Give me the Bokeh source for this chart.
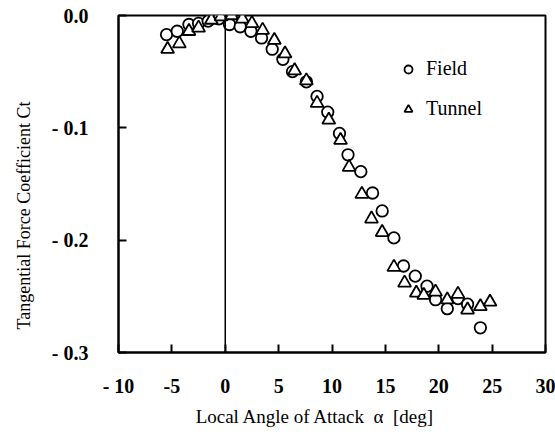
from bokeh.plotting import figure
from bokeh.models import Range1d, FixedTicker, Span, Legend, LegendItem
from bokeh.embed import file_html
from bokeh.resources import INLINE

field_alpha = [-5.5, -4.5, -3.4, -2.5, -1.6, -0.6, 0.4, 1.4, 2.4, 3.4, 4.4, 5.4, 6.3, 7.6, 8.6, 9.6,
               10.7, 11.5, 12.7, 13.8, 14.7, 15.8, 16.7, 17.8, 18.9, 19.7, 20.8, 21.8, 22.7, 23.9]
field_ct = [-0.017, -0.014, -0.008, -0.007, -0.005, -0.003, -0.008, -0.010, -0.014, -0.020, -0.030,
            -0.039, -0.050, -0.059, -0.072, -0.086, -0.105, -0.124, -0.139, -0.158, -0.174, -0.198,
            -0.223, -0.232, -0.241, -0.253, -0.261, -0.252, -0.257, -0.278]

tunnel_alpha = [-5.4, -4.3, -3.4, -2.5, -1.3, -0.4, 0.6, 1.6, 2.5, 3.5, 4.6, 5.6, 6.5, 7.6, 8.6, 9.7,
                10.8, 11.6, 12.8, 13.7, 14.7, 15.8, 16.8, 17.9, 18.6, 19.7, 20.8, 21.8, 22.7, 23.9, 24.8]
tunnel_ct = [-0.030, -0.025, -0.014, -0.011, -0.004, -0.001, 0.000, -0.003, -0.007, -0.013, -0.022,
             -0.034, -0.049, -0.058, -0.078, -0.093, -0.111, -0.135, -0.159, -0.181, -0.193, -0.224,
             -0.238, -0.247, -0.249, -0.246, -0.253, -0.248, -0.262, -0.259, -0.255]

x_ticks = [-10, -5, 0, 5, 10, 15, 20, 25, 30]
x_tick_labels = {-10: "- 10", -5: "-5", 0: "0", 5: "5", 10: "10", 15: "15", 20: "20", 25: "25", 30: "30"}
y_ticks = [-0.3, -0.2, -0.1, 0.0]
y_tick_labels = {-0.3: "- 0.3", -0.2: "- 0.2", -0.1: "- 0.1", 0.0: "0.0"}

NB = "\u00a0"
x_title = "Local Angle of Attack" + NB * 2 + "\u03b1" + NB * 2 + "[deg]" + NB * 7
y_title = "Tangential Force Coefficient Ct" + NB * 14

FONT = "'Liberation Serif', 'Times New Roman', serif"

p = figure(width=555, height=436, output_backend="svg", toolbar_location=None,
           x_range=Range1d(-10, 30), y_range=Range1d(-0.3, 0.0),
           min_border_left=118, min_border_right=10, min_border_top=15, min_border_bottom=84)
p.grid.visible = False
p.outline_line_color = "black"
p.outline_line_width = 2
p.background_fill_color = "white"
p.border_fill_color = "white"

for ax in (p.xaxis[0], p.yaxis[0]):
    ax.axis_line_width = 2
    ax.axis_line_color = "black"
    ax.major_tick_in = 8
    ax.major_tick_out = 0
    ax.major_tick_line_width = 2
    ax.minor_tick_line_color = None
    ax.major_label_text_font = FONT
    ax.major_label_text_font_size = "20px"
    ax.major_label_text_font_style = "bold"
    ax.major_label_text_color = "black"
    ax.axis_label_text_font = FONT
    ax.axis_label_text_font_style = "normal"
    ax.axis_label_text_color = "black"

p.xaxis.ticker = FixedTicker(ticks=x_ticks)
p.xaxis.major_label_overrides = x_tick_labels
p.xaxis.major_label_standoff = 22
p.xaxis.axis_label = x_title
p.xaxis.axis_label_text_font_size = "19px"
p.xaxis.axis_label_standoff = 6

p.yaxis.ticker = FixedTicker(ticks=y_ticks)
p.yaxis.major_label_overrides = y_tick_labels
p.yaxis.major_label_standoff = 30
p.yaxis.axis_label = y_title
p.yaxis.axis_label_text_font_size = "18px"
p.yaxis.axis_label_standoff = 15

p.add_layout(Span(location=0, dimension="height", line_color="black", line_width=1.5))

r_field = p.scatter(field_alpha, field_ct, marker="circle", size=11.5, fill_color="white",
                    line_color="black", line_width=1.8)
r_tunnel = p.scatter(tunnel_alpha, tunnel_ct, marker="triangle", size=13, fill_color="white",
                     line_color="black", line_width=1.8)

legend = Legend(items=[LegendItem(label="Field", renderers=[r_field]),
                       LegendItem(label="Tunnel", renderers=[r_tunnel])],
                location=(280, 232), padding=0, margin=0, spacing=17,
                glyph_width=20, glyph_height=20, label_standoff=8,
                label_text_font=FONT, label_text_font_size="20px", label_text_color="black",
                background_fill_alpha=0, border_line_color=None)
p.add_layout(legend)

open("out.html", "w").write(file_html(p, INLINE))
